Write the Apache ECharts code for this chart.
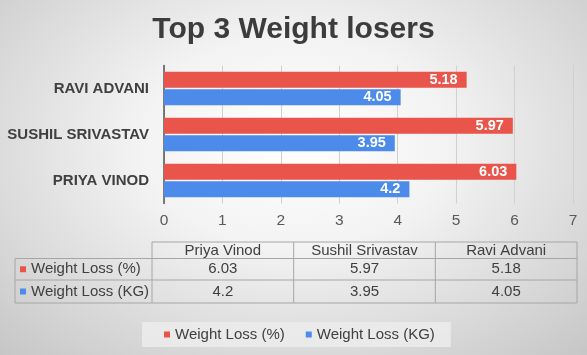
<!DOCTYPE html>
<html><head><meta charset="utf-8">
<script src="https://cdn.jsdelivr.net/npm/echarts@6/dist/echarts.min.js"></script>
<style>
html,body{margin:0;padding:0;}
#c{width:587px;height:355px;background:radial-gradient(ellipse 75% 85% at 50% 40%, #ffffff 0%, #f3f3f3 35%, #c4c4c4 100%);}
</style></head><body><div id="c"></div>
<script>
const categories = ['Priya Vinod', 'Sushil Srivastav', 'Ravi Advani'];
const seriesNames = ['Weight Loss (%)', 'Weight Loss (KG)'];
const weightLossPct = [6.03, 5.97, 5.18];
const weightLossKg = [4.2, 3.95, 4.05];
const xTickLabels = ['0', '1', '2', '3', '4', '5', '6', '7'];
const titleText = 'Top 3 Weight losers';

const colors = ['#E9544B', '#4D8BEA'];
const FONT = "'Liberation Sans', Arial, sans-serif";
const seriesValues = [weightLossPct, weightLossKg];

const chart = echarts.init(document.getElementById('c'), null, {renderer: 'canvas'});

// table layout
const tblLeft = 15, tblLabelRight = 152, tblRight = 577;
const rowY = [242, 258.5, 280, 303];
const colW = (tblRight - tblLabelRight) / categories.length;
const lineStyle = {stroke: '#a6a6a6', lineWidth: 1};
const graphics = [];
function hline(x1, x2, y) { graphics.push({type: 'line', shape: {x1, y1: y, x2, y2: y}, style: lineStyle, silent: true}); }
function vline(x, y1, y2) { graphics.push({type: 'line', shape: {x1: x, y1, x2: x, y2}, style: lineStyle, silent: true}); }
hline(tblLabelRight, tblRight, rowY[0]);
hline(tblLeft, tblRight, rowY[1]);
hline(tblLeft, tblRight, rowY[2]);
hline(tblLeft, tblRight, rowY[3]);
vline(tblLeft, rowY[1], rowY[3]);
for (let i = 0; i <= categories.length; i++) vline(tblLabelRight + i * colW, rowY[0], rowY[3]);
const txtStyle = {fontFamily: FONT, fontSize: 15, fill: '#404040', align: 'center', verticalAlign: 'middle'};
categories.forEach((c, i) => {
  graphics.push({type: 'text', x: tblLabelRight + (i + 0.5) * colW, y: (rowY[0] + rowY[1]) / 2 + 0.5, style: Object.assign({text: c}, txtStyle), silent: true});
});
seriesNames.forEach((s, r) => {
  const yc = (rowY[r + 1] + rowY[r + 2]) / 2;
  graphics.push({type: 'rect', shape: {x: 20, y: yc - 3, width: 6, height: 6}, style: {fill: colors[r]}, silent: true});
  graphics.push({type: 'text', x: 31, y: yc, style: Object.assign({}, txtStyle, {text: s, align: 'left'}), silent: true});
  seriesValues[r].forEach((v, i) => {
    graphics.push({type: 'text', x: tblLabelRight + (i + 0.5) * colW, y: yc, style: Object.assign({text: String(v)}, txtStyle), silent: true});
  });
});

const option = {
  animation: false,
  textStyle: {fontFamily: FONT},
  title: {
    text: titleText, left: 'center', top: 10,
    textStyle: {fontFamily: FONT, fontSize: 30, fontWeight: 'bold', color: '#3c3c3c'}
  },
  legend: {
    data: seriesNames, left: 142, top: 322,
    icon: 'rect', itemWidth: 6, itemHeight: 6, itemGap: 21,
    padding: [5, 16, 5, 22],
    backgroundColor: 'rgba(236,236,236,0.85)',
    textStyle: {fontFamily: FONT, fontSize: 15, color: '#404040'}
  },
  grid: {left: 164, right: 14, top: 65.5, bottom: 151.5, containLabel: false},
  xAxis: {
    type: 'value', min: 0, max: 7, interval: 1,
    axisLine: {show: false}, axisTick: {show: false},
    splitLine: {lineStyle: {color: '#d0d0d0', width: 1}},
    axisLabel: {fontFamily: FONT, fontSize: 15.5, color: '#595959', margin: 9,
      formatter: (v) => xTickLabels[Math.round(v)]}
  },
  yAxis: {
    type: 'category', data: categories,
    axisLine: {show: true, lineStyle: {color: '#555555', width: 1.5}},
    axisTick: {show: false},
    axisLabel: {fontFamily: FONT, fontSize: 15, fontWeight: 'bold', color: '#404040', margin: 15,
      formatter: (v) => v.toUpperCase()}
  },
  series: seriesNames.map((n, k) => ({
    name: n, type: 'bar', data: seriesValues[k],
    barWidth: 16, barGap: '8%',
    itemStyle: {color: colors[k]},
    label: {show: true, position: 'insideRight', distance: 9, color: '#ffffff',
      fontFamily: FONT, fontSize: 14.5, fontWeight: 'bold'}
  })),
  graphic: graphics
};
chart.setOption(option);
</script></body></html>
